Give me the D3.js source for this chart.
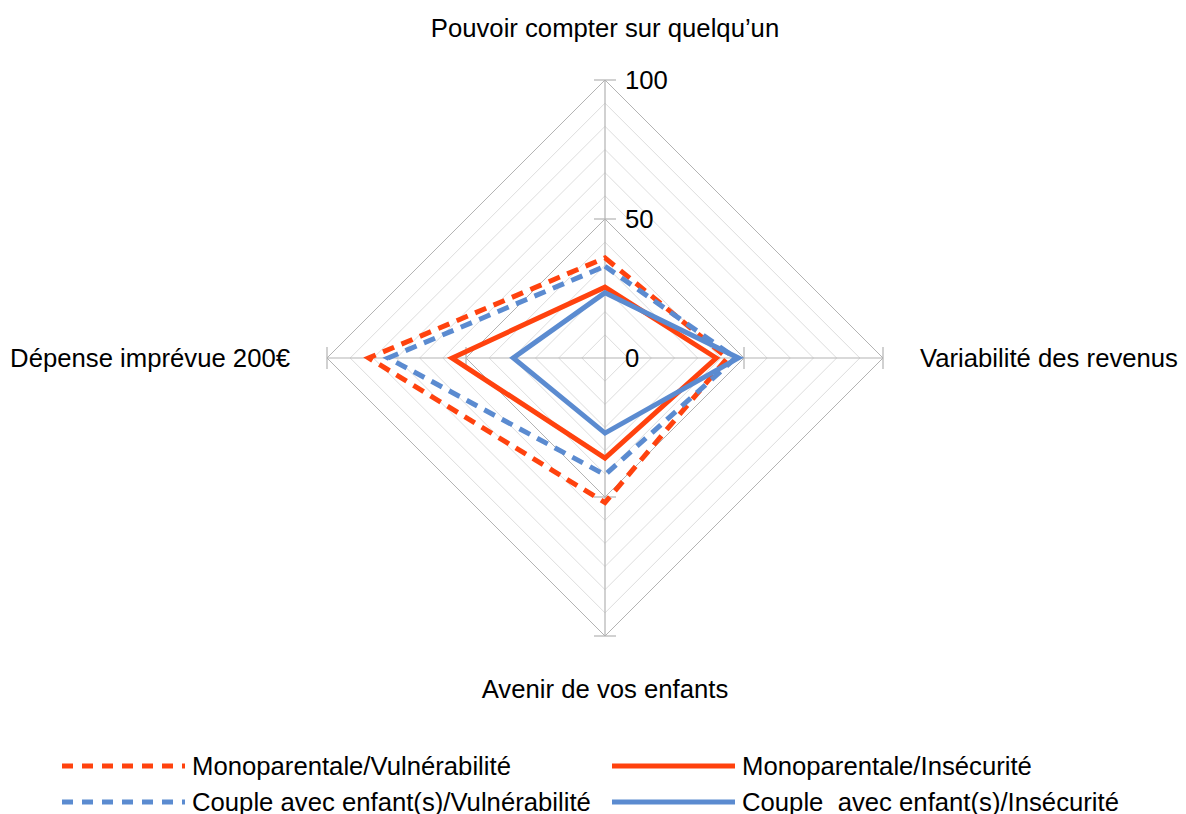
<!DOCTYPE html>
<html>
<head>
<meta charset="utf-8">
<script src="https://cdn.jsdelivr.net/npm/d3@7"></script>
<style>
  html, body { margin: 0; padding: 0; background: #fff; }
  svg { display: block; font-family: "Liberation Sans", Arial, sans-serif; }
  text { white-space: pre; }
</style>
</head>
<body>
<svg id="chart" width="1186" height="814"></svg>
<script>
// Axes of the radar, clockwise from the top
const categories = [
  "Pouvoir compter sur quelqu\u2019un",
  "Variabilité des revenus",
  "Avenir de vos enfants",
  "Dépense imprévue 200€"
];

const monoVulnerabilite = [36, 44, 52, 85];
const monoInsecurite = [25.5, 40, 36, 55];
const coupleVulnerabilite = [33, 47, 42, 78];
const coupleInsecurite = [23.5, 48, 27, 33];

const tickValues = [0, 50, 100];
const tickLabels = ["0", "50", "100"];

const seriesNames = [
  "Monoparentale/Vulnérabilité",
  "Monoparentale/Insécurité",
  "Couple avec enfant(s)/Vulnérabilité",
  "Couple  avec enfant(s)/Insécurité"
];

const orange = "#ff420e";
const blue = "#5b8bd0";

const series = [
  { name: seriesNames[0], values: monoVulnerabilite, color: orange, dashed: true },
  { name: seriesNames[1], values: monoInsecurite, color: orange, dashed: false },
  { name: seriesNames[2], values: coupleVulnerabilite, color: blue, dashed: true },
  { name: seriesNames[3], values: coupleInsecurite, color: blue, dashed: false }
];

const FONT = 25.7;

const svg = d3.select("#chart");
const cx = 605, cy = 358, R = 278;
const r = d3.scaleLinear().domain([0, 100]).range([0, R]);
const angle = d3.scaleBand().domain(categories).range([0, 2 * Math.PI]).align(0).paddingInner(0).paddingOuter(0);
const ang = c => angle(c);

const pt = (c, v) => {
  const a = ang(c);
  return [cx + r(v) * Math.sin(a), cy - r(v) * Math.cos(a)];
};

const g = svg.append("g");

// Concentric grid: minor every 100/12, major at 50 and 100
const gridSteps = d3.range(1, 13).map(k => k * 100 / 12);
g.selectAll("path.grid")
  .data(gridSteps)
  .join("path")
  .attr("class", "grid")
  .attr("d", v => d3.line()(categories.map(c => pt(c, v))) + "Z")
  .attr("fill", "none")
  .attr("stroke", (v, i) => (i === 5 || i === 11) ? "#b3b3b3" : "#dddddd")
  .attr("stroke-width", 1);

// Spokes
g.selectAll("line.spoke")
  .data(categories)
  .join("line")
  .attr("class", "spoke")
  .attr("x1", cx).attr("y1", cy)
  .attr("x2", c => pt(c, 100)[0])
  .attr("y2", c => pt(c, 100)[1])
  .attr("stroke", "#b3b3b3")
  .attr("stroke-width", 1.2);

// Tick marks at 50 and 100 on every spoke
const tickMarks = [];
categories.forEach(c => [50, 100].forEach(v => tickMarks.push({ c, v })));
g.selectAll("line.tick")
  .data(tickMarks)
  .join("line")
  .attr("class", "tick")
  .attr("x1", d => { const [x] = pt(d.c, d.v); const a = ang(d.c); return x - 11 * Math.cos(a); })
  .attr("y1", d => { const [, y] = pt(d.c, d.v); const a = ang(d.c); return y - 11 * Math.sin(a); })
  .attr("x2", d => { const [x] = pt(d.c, d.v); const a = ang(d.c); return x + 11 * Math.cos(a); })
  .attr("y2", d => { const [, y] = pt(d.c, d.v); const a = ang(d.c); return y + 11 * Math.sin(a); })
  .attr("stroke", "#b3b3b3")
  .attr("stroke-width", 1.2);

// Series polygons
const lineGen = d3.line();
g.selectAll("path.series")
  .data(series)
  .join("path")
  .attr("class", "series")
  .attr("d", s => lineGen(categories.map((c, i) => pt(c, s.values[i]))) + "Z")
  .attr("fill", "none")
  .attr("stroke", s => s.color)
  .attr("stroke-width", 5)
  .attr("stroke-linejoin", "miter")
  .attr("stroke-dasharray", s => s.dashed ? "12 8" : null);

// Radial value labels on the top spoke
g.selectAll("text.tickLabel")
  .data(tickValues)
  .join("text")
  .attr("class", "tickLabel")
  .attr("x", cx + 20)
  .attr("y", v => cy - r(v))
  .attr("dy", "0.35em")
  .attr("font-size", FONT)
  .attr("fill", "#000")
  .text((v, i) => tickLabels[i]);

// Category labels
const catPos = [
  { x: cx, y: 28, anchor: "middle" },
  { x: 920, y: cy, anchor: "start" },
  { x: cx, y: 689, anchor: "middle" },
  { x: 290, y: cy, anchor: "end" }
];
g.selectAll("text.cat")
  .data(categories)
  .join("text")
  .attr("class", "cat")
  .attr("x", (c, i) => catPos[i].x)
  .attr("y", (c, i) => catPos[i].y)
  .attr("dy", "0.35em")
  .attr("text-anchor", (c, i) => catPos[i].anchor)
  .attr("font-size", FONT)
  .attr("fill", "#000")
  .text(c => c);

// Legend, two columns by two rows
const legendPos = [
  { x: 62, y: 766 }, { x: 612, y: 766 },
  { x: 62, y: 802 }, { x: 612, y: 802 }
];
const leg = svg.append("g")
  .selectAll("g")
  .data(series)
  .join("g")
  .attr("transform", (s, i) => `translate(${legendPos[i].x},${legendPos[i].y})`);
leg.append("line")
  .attr("x1", 0).attr("x2", 123)
  .attr("y1", 0).attr("y2", 0)
  .attr("stroke", s => s.color)
  .attr("stroke-width", 5)
  .attr("stroke-dasharray", s => s.dashed ? "11 9" : null);
leg.append("text")
  .attr("x", 130)
  .attr("y", 0)
  .attr("dy", "0.35em")
  .attr("font-size", FONT)
  .attr("fill", "#000")
  .text(s => s.name);
</script>
</body>
</html>
